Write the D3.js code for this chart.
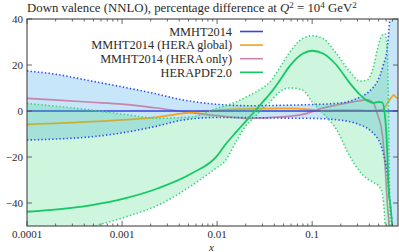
<!DOCTYPE html>
<html>
<head>
<meta charset="utf-8">
<script src="https://cdn.jsdelivr.net/npm/d3@7"></script>
<style>
  body { margin: 0; background: #fff; }
  text { font-family: "Liberation Serif", "DejaVu Serif", serif; fill: #2a2a2a; }
</style>
</head>
<body>
<script>
// MMHT2014 band (shared x grid)
var mmhtX = [1e-4, 2e-4, 4.8e-4, 1e-3, 2.2e-3, 4.4e-3, 0.01, 0.022, 0.05, 0.1, 0.18, 0.3, 0.41, 0.48, 0.52, 0.56, 0.615, 0.66, 0.695, 0.75, 0.8];
var mmhtUp = [17.4, 16.0, 13.0, 10.5, 7.6, 4.8, 2.9, 2.3, 2.5, 2.8, 3.3, 5.5, 9.0, 12.5, 15.7, 20, 27, 42, 60, 100, 150];
var mmhtLo = [-12.6, -12.2, -11.2, -9.5, -6.8, -3.9, -2.8, -2.9, -3.1, -3.2, -3.8, -5.6, -8.5, -11.5, -14, -18.4, -27, -40, -50, -80, -120];

// HERAPDF2.0 central + band (shared x grid)
var heraX = [1e-4, 2.1e-4, 4.8e-4, 1.07e-3, 2.4e-3, 5.5e-3, 0.01, 0.012, 0.016, 0.02, 0.025, 0.03, 0.036, 0.046, 0.058, 0.08, 0.1, 0.13, 0.18, 0.25, 0.32, 0.38, 0.44, 0.5, 0.546, 0.586, 0.615, 0.631, 0.645, 0.662, 0.695, 0.8];
var heraMid = [-43.8, -42.8, -40.9, -38, -33.6, -27, -19.5, -15, -9, -4.5, 0, 3.8, 7.5, 13.5, 19.5, 25, 26.2, 25, 20, 12, 7, 4.5, 3.5, 4, 3.8, -3, -17, -30, -37, -40, -50, -80];
var heraUp = [3.3, 2.0, 0.4, -1.5, -3.2, -2.5, 1.2, 2.2, 4.0, 6.0, 8.0, 10.0, 12.7, 19, 25.5, 31.6, 32.7, 31.5, 25, 17, 13, 13.5, 19, 29, 33, 33.5, 28, 10, -20, -50, -80, -120];
var heraLo = [-64, -57, -50.5, -46.2, -40.9, -32.2, -24.5, -22, -13, -6.5, -2.5, 1, 4, 8.5, 10, 9, 4, -1, -8, -19.8, -26.5, -29.5, -31, -32.5, -35.8, -50, -70, -80, -90, -100, -110, -130];

// other MMHT variants [x, value]
var heraGlobal = [[1e-4, -5.8], [4.8e-4, -4.6], [2.2e-3, -2.8], [4.4e-3, -1], [0.01, 0.3], [0.022, 0.9], [0.05, 1.1], [0.1, 0.6], [0.12, 0.1], [0.18, 0.4], [0.3, 0.4], [0.41, 0.2], [0.52, 0.5], [0.56, 0.8], [0.615, 3.3], [0.695, 6.3], [0.72, 7], [0.76, 6], [0.8, 5.5]];
var heraOnly = [[1e-4, 5.5], [4.8e-4, 3.8], [1e-3, 3.0], [2.2e-3, 1.4], [4.4e-3, -0.3], [0.01, -2], [0.022, -3.2], [0.036, -2.9], [0.08, -1.5], [0.12, 0.9], [0.18, 2.6], [0.27, 4.0], [0.38, 4.8], [0.44, 3.5], [0.483, -1], [0.546, -10], [0.586, -24], [0.615, -39], [0.645, -50], [0.7, -80]];
var mmhtCentral = [[1e-4, 0], [0.8, 0]];

var xTicks = [1e-4, 1e-3, 1e-2, 1e-1];
var xTickLabels = ["0.0001", "0.001", "0.01", "0.1"];
var yTicks = [-40, -20, 0, 20, 40];
var legendNames = ["MMHT2014", "MMHT2014 (HERA global)", "MMHT2014 (HERA only)", "HERAPDF2.0"];
var legendColors = ["#3344dd", "#f7a21c", "#c884aa", "#14c864"];

var width = 399, height = 252;
var margin = {left: 27, right: 1, top: 19, bottom: 26};

var svg = d3.select("body").append("svg")
  .attr("width", width).attr("height", height);

var x = d3.scaleLog().domain([1e-4, 0.8]).range([margin.left, width - margin.right]);
var y = d3.scaleLinear().domain([-50, 40]).range([height - margin.bottom, margin.top]);

svg.append("clipPath").attr("id", "plot")
  .append("rect")
  .attr("x", margin.left).attr("y", margin.top)
  .attr("width", width - margin.left - margin.right)
  .attr("height", height - margin.top - margin.bottom);

var plot = svg.append("g").attr("clip-path", "url(#plot)");

var line = d3.line()
  .x(function(d) { return x(d[0]); })
  .y(function(d) { return y(d[1]); })
  .curve(d3.curveMonotoneX);

function zip(xs, ys) {
  return xs.map(function(v, i) { return [v, ys[i]]; });
}

var band = d3.area()
  .x(function(d) { return x(d[0]); })
  .y0(function(d) { return y(d[2]); })
  .y1(function(d) { return y(d[1]); })
  .curve(d3.curveMonotoneX);

var mmhtBand = mmhtX.map(function(v, i) { return [v, mmhtUp[i], mmhtLo[i]]; });
var heraBand = heraX.map(function(v, i) { return [v, heraUp[i], heraLo[i]]; });

// MMHT band first, then its lines, then the HERAPDF band on top
plot.append("path").attr("d", band(mmhtBand))
  .attr("fill", "rgb(40,160,230)").attr("fill-opacity", 0.26);

plot.append("path").attr("d", line(heraOnly))
  .attr("fill", "none").attr("stroke", legendColors[2]).attr("stroke-width", 1.7);
plot.append("path").attr("d", line(heraGlobal))
  .attr("fill", "none").attr("stroke", legendColors[1]).attr("stroke-width", 1.7);
plot.append("path").attr("d", line(mmhtCentral))
  .attr("fill", "none").attr("stroke", legendColors[0]).attr("stroke-width", 1.4);

plot.append("path").attr("d", band(heraBand))
  .attr("fill", "rgb(60,215,125)").attr("fill-opacity", 0.25);

// dotted band edges
[[mmhtX, mmhtUp, "#2f4ff0"], [mmhtX, mmhtLo, "#2f4ff0"], [heraX, heraUp, "#38d47c"], [heraX, heraLo, "#38d47c"]]
  .forEach(function(e) {
    plot.append("path").attr("d", line(zip(e[0], e[1])))
      .attr("fill", "none").attr("stroke", e[2])
      .attr("stroke-width", 1.6).attr("stroke-dasharray", "1.4,2.2");
  });

plot.append("path").attr("d", line(zip(heraX, heraMid)))
  .attr("fill", "none").attr("stroke", legendColors[3]).attr("stroke-width", 1.8);

// frame + ticks
var axisCol = "#444";
var x0 = margin.left, x1 = width - margin.right, y0 = height - margin.bottom, y1 = margin.top;
svg.append("rect").attr("x", x0).attr("y", y1)
  .attr("width", x1 - x0).attr("height", y0 - y1)
  .attr("fill", "none").attr("stroke", axisCol).attr("stroke-width", 1.1);

var minor = [];
for (var p = -4; p <= -1; p++) {
  for (var m = 2; m <= 9; m++) {
    var v = m * Math.pow(10, p);
    if (v < 0.8) minor.push(v);
  }
}
var ticksG = svg.append("g").attr("stroke", axisCol).attr("stroke-width", 0.8);
xTicks.forEach(function(t) {
  ticksG.append("line").attr("x1", x(t)).attr("x2", x(t)).attr("y1", y0).attr("y2", y0 - 5);
  ticksG.append("line").attr("x1", x(t)).attr("x2", x(t)).attr("y1", y1).attr("y2", y1 + 5);
});
minor.forEach(function(t) {
  ticksG.append("line").attr("x1", x(t)).attr("x2", x(t)).attr("y1", y0).attr("y2", y0 - 2.5);
  ticksG.append("line").attr("x1", x(t)).attr("x2", x(t)).attr("y1", y1).attr("y2", y1 + 2.5);
});
yTicks.forEach(function(t) {
  ticksG.append("line").attr("x1", x0).attr("x2", x0 + 5).attr("y1", y(t)).attr("y2", y(t));
  ticksG.append("line").attr("x1", x1).attr("x2", x1 - 5).attr("y1", y(t)).attr("y2", y(t));
});

xTicks.forEach(function(t, i) {
  svg.append("text").attr("x", x(t)).attr("y", y0 + 11.5)
    .attr("text-anchor", "middle").style("font-size", "11px")
    .text(xTickLabels[i]);
});
yTicks.forEach(function(t) {
  svg.append("text").attr("x", x0 - 4).attr("y", y(t)).attr("dy", "0.35em")
    .attr("text-anchor", "end").style("font-size", "11px")
    .text(t < 0 ? "\u2212" + Math.abs(t) : String(t));
});

svg.append("text").attr("x", (x0 + x1) / 2 - 1).attr("y", 250.5)
  .attr("text-anchor", "middle").style("font-size", "11px").style("font-style", "italic")
  .text("x");

// title
var title = svg.append("text").attr("x", 27).attr("y", 12).style("font-size", "12.8px");
title.append("tspan").text("Down valence (NNLO), percentage difference at ");
title.append("tspan").style("font-style", "italic").text("Q");
title.append("tspan").attr("dy", -4.5).style("font-size", "9px").text("2");
title.append("tspan").attr("dy", 4.5).text(" = 10");
title.append("tspan").attr("dy", -4.5).style("font-size", "9px").text("4");
title.append("tspan").attr("dy", 4.5).text(" GeV");
title.append("tspan").attr("dy", -4.5).style("font-size", "9px").text("2");

// legend
var legend = svg.append("g");
legendNames.forEach(function(name, i) {
  var ly = 31.5 + i * 13.6;
  legend.append("text").attr("x", 232).attr("y", ly).attr("dy", "0.35em")
    .attr("text-anchor", "end").style("font-size", "12.3px").text(name);
  legend.append("line").attr("x1", 240).attr("x2", 263).attr("y1", ly).attr("y2", ly)
    .attr("stroke", legendColors[i]).attr("stroke-width", 1.6);
});
</script>
</body>
</html>
